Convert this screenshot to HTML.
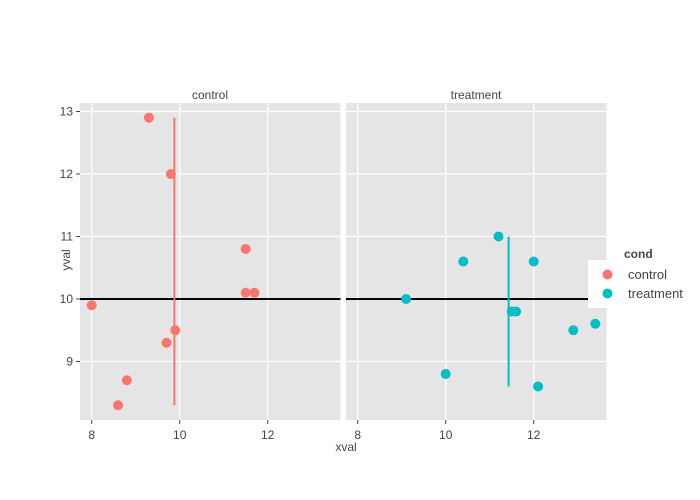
<!DOCTYPE html>
<html><head><meta charset="utf-8"><style>html,body{margin:0;padding:0;background:#fff}svg{display:block}text{font-family:"Liberation Sans",sans-serif;fill:#444}</style></head>
<body>
<svg width="700" height="500" xmlns="http://www.w3.org/2000/svg">
<rect x="80" y="103" width="260.5" height="317" fill="#e5e5e5"/>
<rect x="346" y="103" width="260.5" height="317" fill="#e5e5e5"/>
<g stroke="#fff" stroke-width="1.2">
<line x1="91.7" y1="103" x2="91.7" y2="420"/><line x1="179.7" y1="103" x2="179.7" y2="420"/><line x1="267.7" y1="103" x2="267.7" y2="420"/>
<line x1="357.7" y1="103" x2="357.7" y2="420"/><line x1="445.7" y1="103" x2="445.7" y2="420"/><line x1="533.7" y1="103" x2="533.7" y2="420"/>
<line x1="80" y1="111.5" x2="340.5" y2="111.5"/><line x1="80" y1="174" x2="340.5" y2="174"/><line x1="80" y1="236.5" x2="340.5" y2="236.5"/><line x1="80" y1="361.5" x2="340.5" y2="361.5"/>
<line x1="346" y1="111.5" x2="606.5" y2="111.5"/><line x1="346" y1="174" x2="606.5" y2="174"/><line x1="346" y1="236.5" x2="606.5" y2="236.5"/><line x1="346" y1="361.5" x2="606.5" y2="361.5"/>
</g>
<g stroke="#444" stroke-width="1">
<line x1="76" y1="111.5" x2="80" y2="111.5"/><line x1="76" y1="174" x2="80" y2="174"/><line x1="76" y1="236.5" x2="80" y2="236.5"/><line x1="76" y1="299" x2="80" y2="299"/><line x1="76" y1="361.5" x2="80" y2="361.5"/>
<line x1="91.7" y1="420" x2="91.7" y2="424"/><line x1="179.7" y1="420" x2="179.7" y2="424"/><line x1="267.7" y1="420" x2="267.7" y2="424"/>
<line x1="357.7" y1="420" x2="357.7" y2="424"/><line x1="445.7" y1="420" x2="445.7" y2="424"/><line x1="533.7" y1="420" x2="533.7" y2="424"/>
</g>
<g font-size="12" text-anchor="end">
<text x="73" y="115.5">13</text><text x="73" y="178">12</text><text x="73" y="240.5">11</text><text x="73" y="303">10</text><text x="73" y="365.5">9</text>
</g>
<g font-size="12" text-anchor="middle">
<text x="91.7" y="439">8</text><text x="179.7" y="439">10</text><text x="267.7" y="439">12</text>
<text x="357.7" y="439">8</text><text x="445.7" y="439">10</text><text x="533.7" y="439">12</text>
<text x="210" y="99">control</text><text x="476" y="99">treatment</text>
<text x="346" y="451">xval</text>
<text x="0" y="0" transform="translate(70,260) rotate(-90)">yval</text>
</g>
<line x1="80" y1="299" x2="340.5" y2="299" stroke="#000" stroke-width="2"/>
<line x1="346" y1="299" x2="606.5" y2="299" stroke="#000" stroke-width="2"/>
<line x1="174.4" y1="405.25" x2="174.4" y2="117.75" stroke="#f8766d" stroke-width="2"/>
<line x1="508.6" y1="386.5" x2="508.6" y2="236.5" stroke="#00bfc4" stroke-width="2"/>
<g fill="#f8766d">
<circle cx="91.7" cy="305.25" r="5"/><circle cx="148.9" cy="117.75" r="5"/><circle cx="170.9" cy="174" r="5"/><circle cx="245.7" cy="249" r="5"/><circle cx="245.7" cy="292.75" r="5"/><circle cx="254.5" cy="292.75" r="5"/><circle cx="175.3" cy="330.25" r="5"/><circle cx="166.5" cy="342.75" r="5"/><circle cx="126.9" cy="380.25" r="5"/><circle cx="118.1" cy="405.25" r="5"/>
</g>
<g fill="#00bfc4">
<circle cx="406.1" cy="299" r="5"/><circle cx="463.3" cy="261.5" r="5"/><circle cx="498.5" cy="236.5" r="5"/><circle cx="533.7" cy="261.5" r="5"/><circle cx="511.7" cy="311.5" r="5"/><circle cx="516.1" cy="311.5" r="5"/><circle cx="573.3" cy="330.25" r="5"/><circle cx="595.3" cy="323.75" r="5"/><circle cx="445.7" cy="374" r="5"/><circle cx="538.1" cy="386.5" r="5"/>
</g>
<rect x="588" y="260" width="112" height="48" fill="#fff"/>
<text x="624" y="258" font-size="12" font-weight="bold">cond</text>
<circle cx="607.5" cy="274.5" r="5" fill="#f8766d"/>
<circle cx="607.5" cy="293.5" r="5" fill="#00bfc4"/>
<text x="628" y="279" font-size="13">control</text>
<text x="628" y="298" font-size="13">treatment</text>
</svg>
</body></html>
